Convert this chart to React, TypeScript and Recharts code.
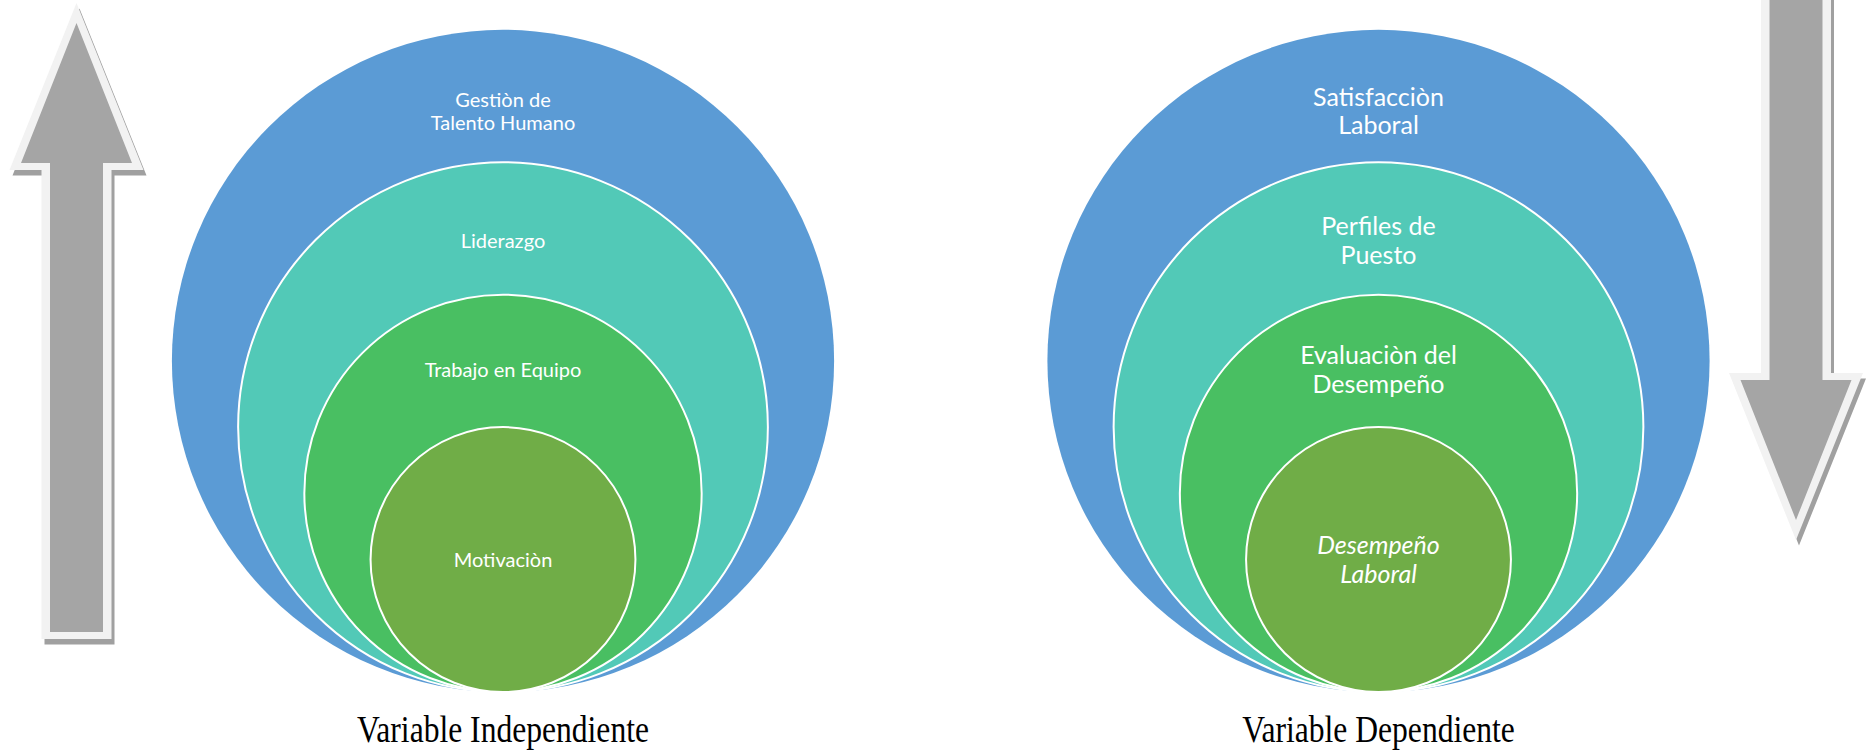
import { ScatterChart, Scatter, XAxis, YAxis, ReferenceArea } from "recharts";

document.body.style.margin = "0";
document.body.style.overflow = "hidden";

const W = 1867;
const H = 752;
const AXIS_H = 60;
const BASE_Y = H - AXIS_H; // pixel where y = 0 (all rings touch here)
const Y_MAX = 209;

// rings, outermost first; size = radius in y units
const levelSizes = [100, 80, 60, 40];
const independentLevels = [
    "Gestiòn de\nTalento Humano",
    "Liderazgo",
    "Trabajo en Equipo",
    "Motivaciòn",
];
const dependentLevels = [
    "Satisfacciòn\nLaboral",
    "Perfiles de\nPuesto",
    "Evaluaciòn del\nDesempeño",
    "Desempeño\nLaboral",
];
const diagramTitles = ["Variable Independiente", "Variable Dependiente"];

// where each diagram / arrow sits on the x axis
const DIAGRAM_X = [503, 1378.5];
const ARROW_X = [76.5, 1796];
const arrowTips = [208.1, 45.9];
const arrowTails = [16, 216];

const ringColors = ["#5B9BD5", "#52C9B7", "#49BF62", "#70AD47"];

const buildRings = (labels: string[], x: number) =>
    levelSizes.map((s, i) => ({ x, y: s, label: labels[i], level: i }));

const Ring = (props: any) => {
    const { cx, cy, payload, fontSize, italicInner } = props;
    const r = BASE_Y - cy;
    const inner = payload.level === levelSizes.length - 1;
    const lines: string[] = payload.label.split("\n");
    const lh = fontSize * 1.15;
    const centerY = inner ? cy : cy - r + 66 + 0.047 * r;
    return (
        <g>
            <circle
                cx={cx}
                cy={cy}
                r={r}
                fill={ringColors[payload.level]}
                stroke={payload.level === 0 ? "none" : "#FFFFFF"}
                strokeWidth={2}
            />
            {lines.map((t, i) => (
                <text
                    key={i}
                    x={cx}
                    y={centerY + (i - (lines.length - 1) / 2) * lh + fontSize * 0.35}
                    textAnchor="middle"
                    fill="#FFFFFF"
                    fontFamily="Lato, 'Open Sans', sans-serif"
                    fontSize={fontSize}
                    fontStyle={inner && italicInner ? "italic" : "normal"}
                >
                    {t}
                </text>
            ))}
        </g>
    );
};

const Arrow = (props: any) => {
    const { x, y, width, height, up } = props;
    const cx = x + width / 2;
    const tipY = up ? y : y + height;
    const tailY = up ? y + height : y;
    const d = up ? 1 : -1; // direction from tip towards tail
    const poly = (inset: boolean, dx = 0, dy = 0) => {
        const hw = inset ? 55.5 : 67;
        const sw = inset ? 26.5 : 35;
        const t0 = inset ? 20 : 0;
        const base = inset ? 160 : 167;
        const tail = tailY - d * (inset ? 7 : 0);
        const pts = [
            [cx, tipY + d * t0],
            [cx + hw, tipY + d * base],
            [cx + sw, tipY + d * base],
            [cx + sw, tail],
            [cx - sw, tail],
            [cx - sw, tipY + d * base],
            [cx - hw, tipY + d * base],
        ];
        return pts.map((p) => `${p[0] + dx},${p[1] + dy}`).join(" ");
    };
    return (
        <g>
            <polygon points={poly(false, 3, 5.5)} fill="#A0A0A0" />
            <polygon points={poly(false)} fill="#F2F2F2" />
            <polygon points={poly(true)} fill="#A5A5A5" />
        </g>
    );
};

const TitleTick = (props: any) => {
    const { x, y, payload } = props;
    const idx = DIAGRAM_X.indexOf(payload.value);
    return (
        <text
            transform={`translate(${x},${y + 50}) scale(0.81,1)`}
            textAnchor="middle"
            fill="#000000"
            fontFamily="'Liberation Serif', 'Times New Roman', serif"
            fontSize={39}
        >
            {diagramTitles[idx]}
        </text>
    );
};

export default function App() {
    return (
        <ScatterChart
            width={W}
            height={H}
            margin={{ top: 0, right: 0, bottom: 0, left: 0 }}
        >
            <XAxis
                type="number"
                dataKey="x"
                domain={[0, W]}
                ticks={DIAGRAM_X}
                interval={0}
                axisLine={false}
                tickLine={false}
                tickSize={0}
                tickMargin={0}
                height={AXIS_H}
                tick={<TitleTick />}
            />
            <YAxis type="number" dataKey="y" domain={[0, Y_MAX]} hide />
            {ARROW_X.map((ax, i) => (
                <ReferenceArea
                    key={`arrow-${i}`}
                    x1={ax - 67}
                    x2={ax + 67}
                    y1={arrowTails[i]}
                    y2={arrowTips[i]}
                    ifOverflow="visible"
                    shape={(p: any) => <Arrow {...p} up={arrowTips[i] > arrowTails[i]} />}
                />
            ))}
            <Scatter
                data={buildRings(independentLevels, DIAGRAM_X[0])}
                isAnimationActive={false}
                shape={(p: any) => <Ring {...p} fontSize={20} italicInner={false} />}
            />
            <Scatter
                data={buildRings(dependentLevels, DIAGRAM_X[1])}
                isAnimationActive={false}
                shape={(p: any) => <Ring {...p} fontSize={25} italicInner={true} />}
            />
        </ScatterChart>
    );
}
